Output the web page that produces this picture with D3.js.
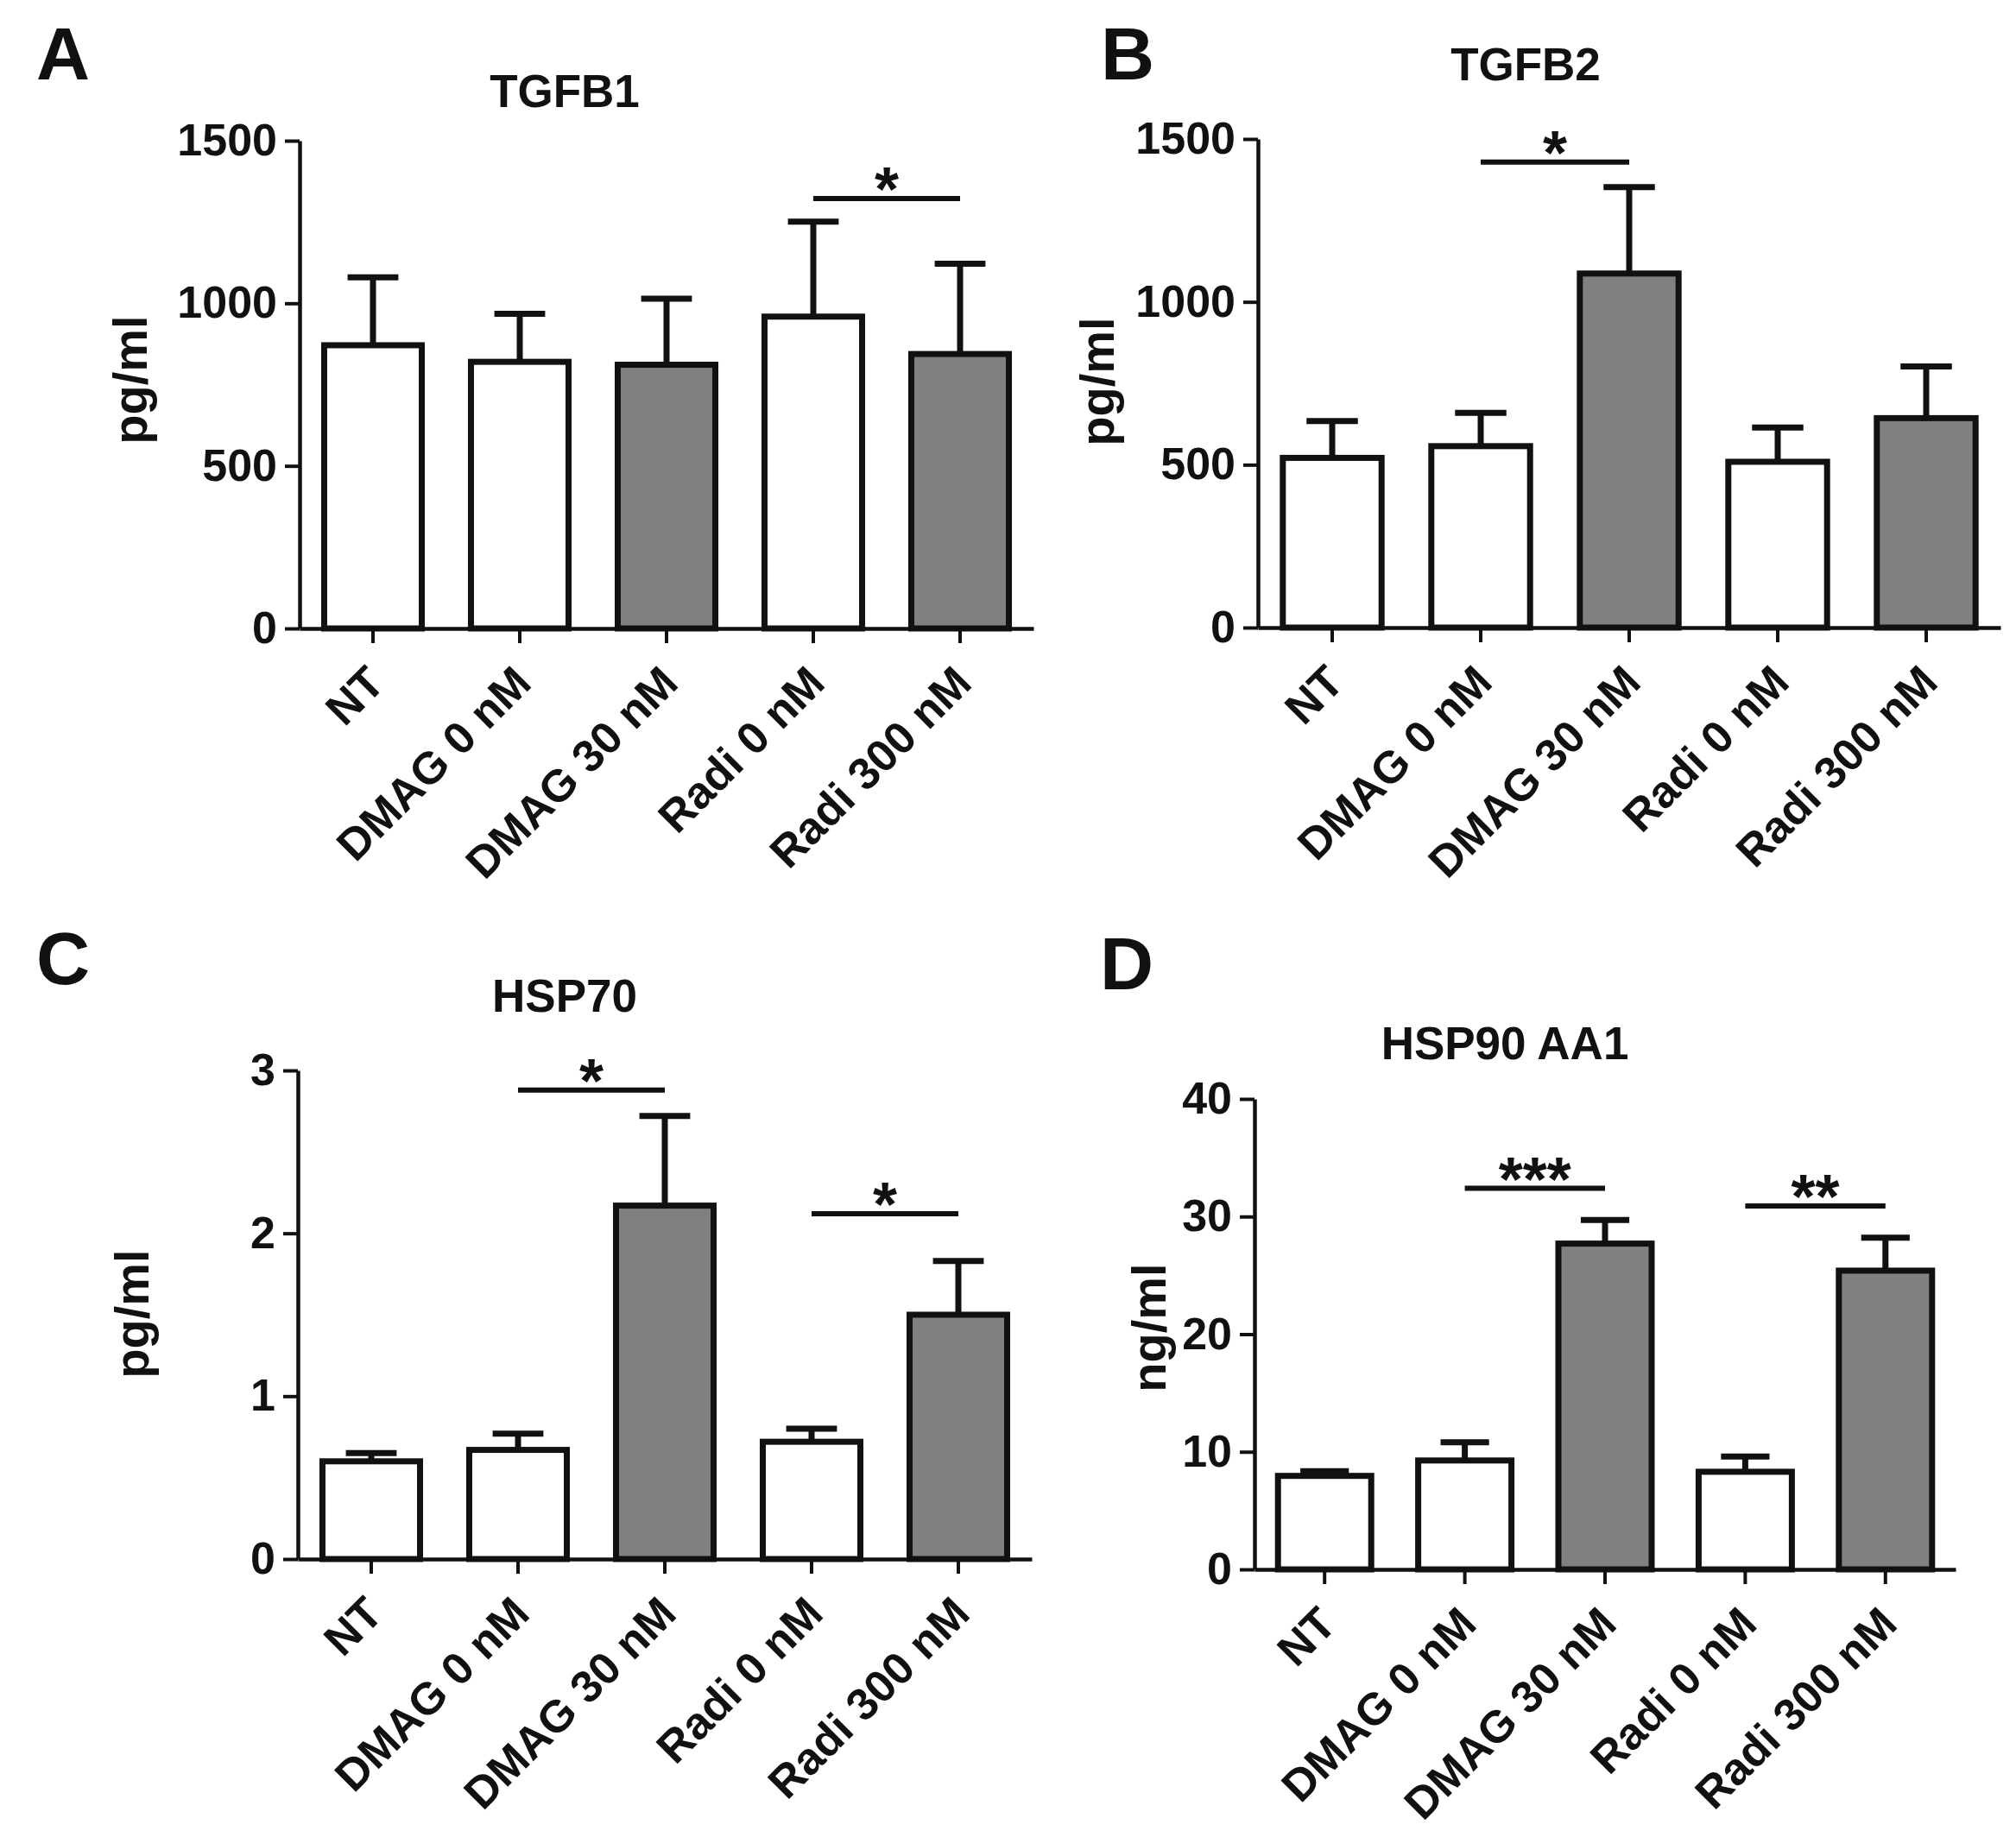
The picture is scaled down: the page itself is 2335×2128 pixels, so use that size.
<!DOCTYPE html>
<html>
<head>
<meta charset="utf-8">
<script src="https://cdn.jsdelivr.net/npm/d3@7"></script>
<style>
  body { margin: 0; background: #fff; }
  text { font-family: "Liberation Sans", Arial, sans-serif; font-weight: bold; fill: #111; }
</style>
</head>
<body>
<div id="figure"></div>
<script>
// groups on the x axis, same for every panel
const categories = ["NT", "DMAG 0 nM", "DMAG 30 nM", "Radi 0 nM", "Radi 300 nM"];
const treated = [false, false, true, false, true];

// mean values and upper error (SEM)
const tgfb1Mean = [871, 820, 811, 959, 844];
const tgfb1Err  = [209, 148, 203, 292, 278];
const tgfb2Mean = [521, 557, 1087, 509, 643];
const tgfb2Err  = [113, 102, 265, 105, 159];
const hsp70Mean = [0.60, 0.67, 2.17, 0.72, 1.50];
const hsp70Err  = [0.05, 0.10, 0.55, 0.08, 0.33];
const hsp90Mean = [7.95, 9.26, 27.7, 8.3, 25.4];
const hsp90Err  = [0.40, 1.54, 2.0, 1.3, 2.8];

// y ticks
const tgfbTicks = [0, 500, 1000, 1500];
const hsp70Ticks = [0, 1, 2, 3];
const hsp90Ticks = [0, 10, 20, 30, 40];

// significance brackets: from group, to group, height in data units, stars
const tgfb1Sig = [{from: 3, to: 4, y: 1322, label: "*"}];
const tgfb2Sig = [{from: 1, to: 2, y: 1429, label: "*"}];
const hsp70Sig = [{from: 1, to: 2, y: 2.88, label: "*"}, {from: 3, to: 4, y: 2.12, label: "*"}];
const hsp90Sig = [{from: 1, to: 2, y: 32.4, label: "***"}, {from: 3, to: 4, y: 30.9, label: "**"}];

const W = 2335, H = 2128;
const ink = "#111";
const grey = "#808080";

const svg = d3.select("#figure")
  .append("svg")
    .attr("width", W)
    .attr("height", H);

svg.append("rect").attr("width", W).attr("height", H).attr("fill", "#fff");

// panel layout (pixels)
const panels = [
  {letter: "A", title: "TGFB1", ylab: "pg/ml", mean: tgfb1Mean, err: tgfb1Err, ticks: tgfbTicks, sig: tgfb1Sig,
   x0: 347, x1: 1197, yTop: 163, yZero: 728, tx: 654, ty: 124, lx: 42, ly: 92, yx: 150, yy: 440},
  {letter: "B", title: "TGFB2", ylab: "pg/ml", mean: tgfb2Mean, err: tgfb2Err, ticks: tgfbTicks, sig: tgfb2Sig,
   x0: 1457, x1: 2317, yTop: 161, yZero: 727, tx: 1767, ty: 93, lx: 1275, ly: 92, yx: 1270, yy: 442},
  {letter: "C", title: "HSP70", ylab: "pg/ml", mean: hsp70Mean, err: hsp70Err, ticks: hsp70Ticks, sig: hsp70Sig,
   x0: 345, x1: 1195, yTop: 1240, yZero: 1806, tx: 654, ty: 1172, lx: 42, ly: 1140, yx: 152, yy: 1522},
  {letter: "D", title: "HSP90 AA1", ylab: "ng/ml", mean: hsp90Mean, err: hsp90Err, ticks: hsp90Ticks, sig: hsp90Sig,
   x0: 1453, x1: 2265, yTop: 1273, yZero: 1818, tx: 1743, ty: 1227, lx: 1274, ly: 1146, yx: 1330, yy: 1538}
];

panels.forEach(drawPanel);

function drawPanel(p) {
  const g = svg.append("g");

  const x = d3.scaleBand()
    .domain(categories)
    .range([p.x0, p.x1])
    .paddingInner(0.335)
    .paddingOuter(0.1675);

  const y = d3.scaleLinear()
    .domain([0, d3.max(p.ticks)])
    .range([p.yZero, p.yTop]);

  const rows = categories.map((c, i) => ({name: c, mean: p.mean[i], err: p.err[i], treated: treated[i]}));

  // panel letter and title
  g.append("text")
    .attr("x", p.lx).attr("y", p.ly)
    .style("font-size", "86px")
    .text(p.letter);

  g.append("text")
    .attr("x", p.tx).attr("y", p.ty)
    .attr("text-anchor", "middle")
    .style("font-size", "53px")
    .text(p.title);

  g.append("text")
    .attr("transform", `translate(${p.yx},${p.yy}) rotate(-90)`)
    .attr("text-anchor", "middle")
    .attr("dy", "0.35em")
    .style("font-size", "56px")
    .text(p.ylab);

  // error bars (upper only)
  const capW = x.bandwidth() * 0.52;
  const eb = g.append("g")
    .selectAll("g")
    .data(rows)
    .join("g")
    .attr("stroke", ink)
    .attr("stroke-width", 7);

  eb.append("line")
    .attr("x1", d => x(d.name) + x.bandwidth() / 2)
    .attr("x2", d => x(d.name) + x.bandwidth() / 2)
    .attr("y1", d => y(d.mean))
    .attr("y2", d => y(d.mean + d.err));

  eb.append("line")
    .attr("x1", d => x(d.name) + x.bandwidth() / 2 - capW / 2)
    .attr("x2", d => x(d.name) + x.bandwidth() / 2 + capW / 2)
    .attr("y1", d => y(d.mean + d.err))
    .attr("y2", d => y(d.mean + d.err));

  // bars
  g.append("g")
    .selectAll("rect")
    .data(rows)
    .join("rect")
    .attr("x", d => x(d.name))
    .attr("y", d => y(d.mean))
    .attr("width", x.bandwidth())
    .attr("height", d => y(0) - y(d.mean))
    .attr("fill", d => d.treated ? grey : "#fff")
    .attr("stroke", ink)
    .attr("stroke-width", 7);

  // axes
  const yAxis = g.append("g")
    .attr("transform", `translate(${p.x0},0)`)
    .call(d3.axisLeft(y).tickValues(p.ticks).tickFormat(d3.format("d")).tickSize(17).tickSizeOuter(0).tickPadding(9));

  const xAxis = g.append("g")
    .attr("transform", `translate(0,${p.yZero})`)
    .call(d3.axisBottom(x).tickSize(17).tickSizeOuter(0));

  [yAxis, xAxis].forEach(a => {
    a.select(".domain").attr("stroke", ink).attr("stroke-width", 4.5);
    a.selectAll(".tick line").attr("stroke", ink).attr("stroke-width", 4);
    a.selectAll(".tick text")
      .attr("fill", ink)
      .style("font-size", "52px")
      .style("font-family", "'Liberation Sans', Arial, sans-serif")
      .style("font-weight", "bold");
  });

  xAxis.selectAll(".tick text")
    .attr("x", 0).attr("y", 0).attr("dy", 0)
    .attr("text-anchor", "end")
    .attr("transform", "translate(16,66) rotate(-45)");

  // significance brackets
  p.sig.forEach(s => {
    const xa = x(categories[s.from]) + x.bandwidth() / 2;
    const xb = x(categories[s.to]) + x.bandwidth() / 2;
    g.append("line")
      .attr("x1", xa).attr("x2", xb)
      .attr("y1", y(s.y)).attr("y2", y(s.y))
      .attr("stroke", ink)
      .attr("stroke-width", 6);
    g.append("text")
      .attr("x", (xa + xb) / 2)
      .attr("y", y(s.y) + 14)
      .attr("text-anchor", "middle")
      .style("font-size", "72px")
      .text(s.label);
  });
}
</script>
</body>
</html>
